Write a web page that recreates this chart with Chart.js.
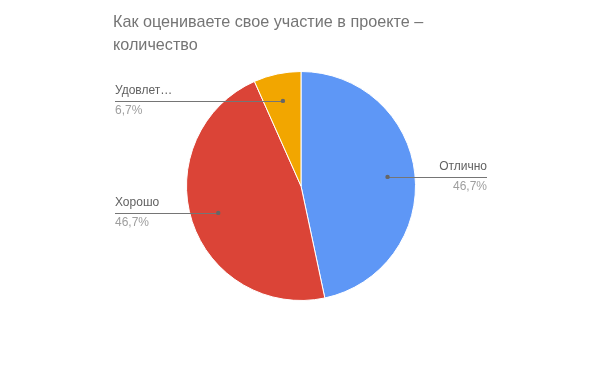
<!DOCTYPE html>
<html>
<head>
<meta charset="utf-8">
<script src="https://cdn.jsdelivr.net/npm/chart.js@4"></script>
<style>
  html, body { margin: 0; padding: 0; background: #fff; }
  #wrap { width: 600px; height: 371px; position: relative; }
</style>
</head>
<body>
<div id="wrap"><canvas id="pie"></canvas></div>
<script>
// данные диаграммы
const chartTitle = ['Как оцениваете свое участие в проекте –', 'количество'];
const categories = ['Отлично', 'Хорошо', 'Удовлетворительно'];
const counts = [7, 7, 1];
const colors = ['#5e97f6', '#db4437', '#f2a600'];

// стороны подписей: справа / слева
const labelSide = ['right', 'left', 'left'];

function fitText(ctx, text, maxW) {
  if (ctx.measureText(text).width <= maxW) return text;
  let t = text;
  while (t.length > 1 && ctx.measureText(t + '…').width > maxW) t = t.slice(0, -1);
  return t + '…';
}

// заголовок и выноски рисуем сами
const calloutPlugin = {
  id: 'callouts',
  afterDraw(chart) {
    const ctx = chart.ctx;
    ctx.save();
    ctx.fillStyle = '#757575';
    ctx.font = '16.2px Arial, "Liberation Sans", sans-serif';
    ctx.textBaseline = 'middle';
    ctx.textAlign = 'left';
    chartTitle.forEach((line, i) => ctx.fillText(line, 113, 23 + i * 23));

    const meta = chart.getDatasetMeta(0);
    const total = counts.reduce((a, b) => a + b, 0);
    meta.data.forEach((arc, i) => {
      const mid = (arc.startAngle + arc.endAngle) / 2;
      const r = arc.outerRadius * 0.76;
      const px = arc.x + Math.cos(mid) * r;
      const py = arc.y + Math.sin(mid) * r;
      const right = labelSide[i] === 'right';
      const ex = right ? 487 : 115;

      ctx.strokeStyle = '#757575';
      ctx.lineWidth = 1;
      ctx.beginPath();
      ctx.moveTo(px, Math.round(py) + 0.5);
      ctx.lineTo(ex, Math.round(py) + 0.5);
      ctx.stroke();
      ctx.fillStyle = '#666666';
      ctx.beginPath();
      ctx.arc(px, py, 2.2, 0, Math.PI * 2);
      ctx.fill();

      ctx.font = '12px Arial, "Liberation Sans", sans-serif';
      ctx.textAlign = right ? 'right' : 'left';
      ctx.fillStyle = '#616161';
      ctx.fillText(fitText(ctx, categories[i], 60), ex, py - 10);
      const pct = (counts[i] / total * 100).toFixed(1).replace('.', ',') + '%';
      ctx.fillStyle = '#9e9e9e';
      ctx.fillText(pct, ex, py + 10);
    });
    ctx.restore();
  }
};

new Chart(document.getElementById('pie'), {
  type: 'pie',
  data: {
    labels: categories,
    datasets: [{
      data: counts,
      backgroundColor: colors,
      borderColor: '#ffffff',
      borderWidth: 1
    }]
  },
  options: {
    responsive: true,
    maintainAspectRatio: false,
    animation: false,
    layout: { padding: { left: 186, right: 184, top: 71, bottom: 70 } },
    plugins: {
      legend: { display: false },
      title: { display: false },
      tooltip: { enabled: false }
    }
  },
  plugins: [calloutPlugin]
});
</script>
</body>
</html>
